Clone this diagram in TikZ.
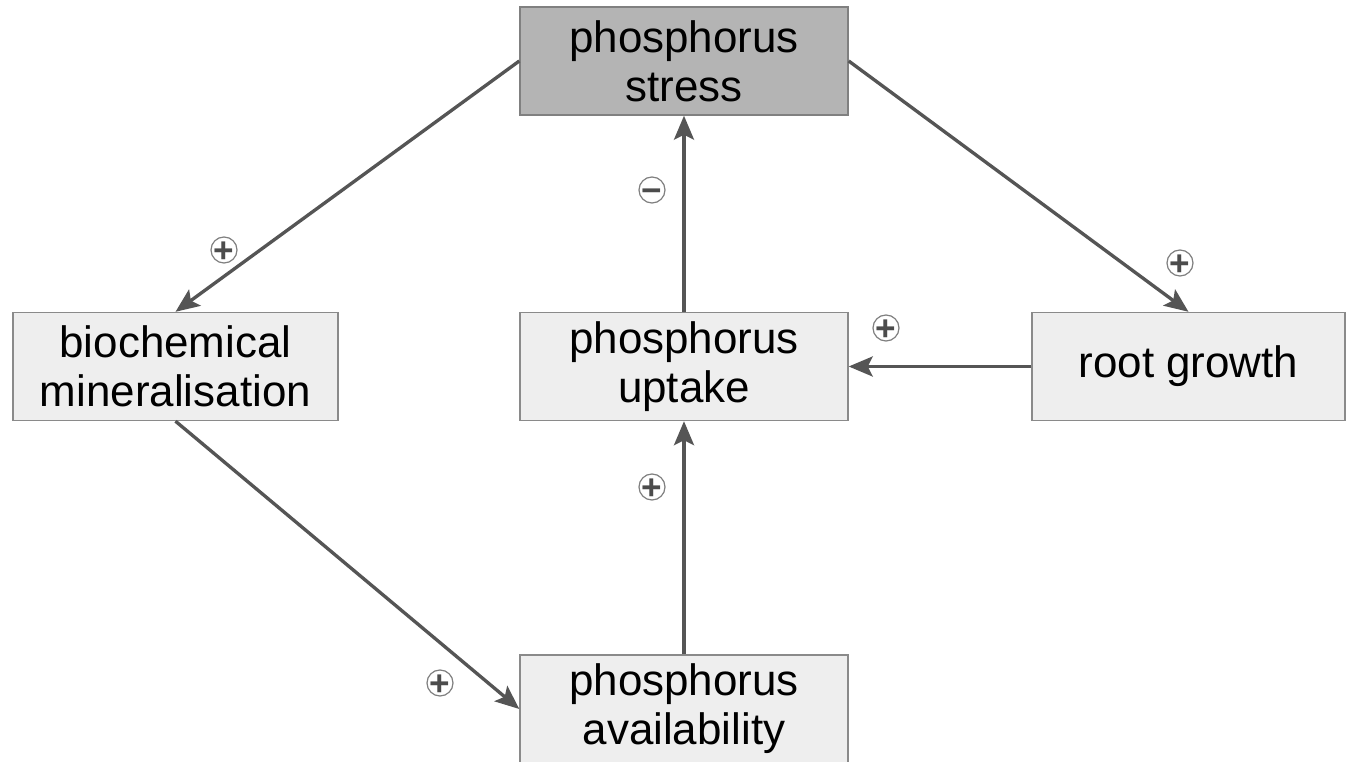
\documentclass[tikz,border=0pt]{standalone}
\usepackage{fontspec}
\setmainfont{Liberation Sans}
\usetikzlibrary{arrows.meta,positioning}
\definecolor{boxfill}{HTML}{EEEEEE}
\definecolor{stressfill}{HTML}{B4B4B4}
\definecolor{edgegray}{HTML}{555555}
\definecolor{framegray}{HTML}{8A8A8A}
\begin{document}
\begin{tikzpicture}[box/.style={draw=framegray,line width=0.8pt,fill=boxfill,minimum height=2.16cm,align=center,inner sep=0pt,font=\fontsize{25}{28}\selectfont},
                    link/.style={draw=edgegray,line width=1.9pt,-{Stealth[length=0.48cm,width=0.4cm,inset=0.1cm]}},
                    polarity/.style={circle,draw=gray,line width=0.7pt,fill=white,minimum size=0.52cm,inner sep=-3pt,text height=14pt,text depth=0pt,font=\fontsize{20}{20}\selectfont\bfseries,text=black!70}]
                      \useasboundingbox (0,0) rectangle (26.92,15.24);

                      \node[box,fill=stressfill,draw=gray,minimum width=6.56cm] (stress) at (13.68,14.02) {phosphorus\\stress};
                      \node[box,minimum width=6.50cm] (mineral) at (3.51,7.91) {biochemical\\mineralisation};
                      \node[box,minimum width=6.56cm] (uptake) at (13.68,7.91) {phosphorus\\uptake};
                      \node[box,minimum width=6.26cm] (root) at (23.77,7.91) {root growth};
                      \node[box,minimum width=6.56cm] (avail) at (13.68,1.06) {phosphorus\\availability};

                      \draw[link] (stress.west) -- (mineral.north);
                      \draw[link] (stress.east) -- (root.north);
                      \draw[link] (uptake) -- (stress);
                      \draw[link] (root) -- (uptake);
                      \draw[link] (avail) -- (uptake);
                      \draw[link] (mineral.south) -- (avail.west);

                      \node[polarity] (p1) at (4.48,10.24) {+};
                      \node[polarity] (p2) at (13.04,11.44) {−};
                      \node[polarity] (p3) at (23.60,9.98) {+};
                      \node[polarity] (p4) at (17.72,8.68) {+};
                      \node[polarity] (p5) at (13.04,5.50) {+};
                      \node[polarity] (p6) at (8.80,1.58) {+};
                    \end{tikzpicture}
\end{document}
